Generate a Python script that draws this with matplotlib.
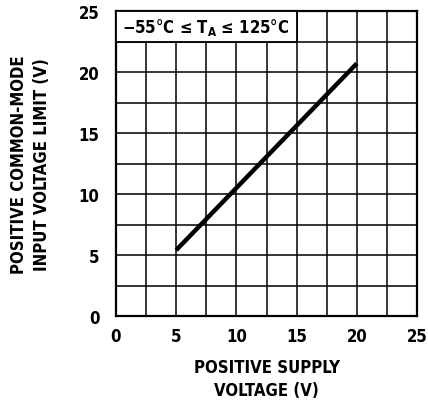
import numpy as np
import matplotlib.pyplot as plt
from matplotlib import font_manager as fm
from matplotlib.patches import Rectangle

# data
supply_v = [5, 20]
cm_limit = [5.4, 20.7]
ticks = [0, 5, 10, 15, 20, 25]
temp_label = "\u221255°C \u2264 T$_\\mathregular{A}$ \u2264 125°C"

# narrow bold face if there is one
names = set(f.name for f in fm.fontManager.ttflist)
stretch = "normal"
if "Liberation Sans Narrow" in names:
    fam = "Liberation Sans Narrow"
elif any(f.name == "DejaVu Sans" and f.stretch == "condensed" for f in fm.fontManager.ttflist):
    fam = "DejaVu Sans"; stretch = "condensed"
else:
    fam = "Liberation Sans"

plt.rcParams["font.family"] = [fam, "DejaVu Sans"]
plt.rcParams["font.weight"] = "bold"
plt.rcParams["font.stretch"] = stretch
plt.rcParams["axes.labelweight"] = "bold"

fig = plt.figure(figsize=(4.28, 4.06), dpi=100)
ax = fig.add_axes([116/428, 1-317/406, 301/428, 305/406])

ax.set_xlim(0, 25); ax.set_ylim(0, 25)
ax.set_xticks(ticks); ax.set_yticks(ticks)
ax.set_xticks(np.arange(0, 25.1, 2.5), minor=True)
ax.set_yticks(np.arange(0, 25.1, 2.5), minor=True)
ax.grid(which="both", color="black", lw=1.1)
ax.tick_params(which="both", length=0, labelsize=12)
ax.tick_params(axis="x", pad=8)
ax.tick_params(axis="y", pad=12)
for t in ax.get_xticklabels() + ax.get_yticklabels():
    t.set_fontweight("bold")
for s in ax.spines.values():
    s.set_linewidth(1.6)

# label box in the top-left corner hides the grid there
ax.add_patch(Rectangle((0, 22.5), 15, 2.5, facecolor="white", edgecolor="black", lw=1.3, zorder=3))
ax.text(0.5, 23.75, temp_label, fontsize=12, fontweight="bold", va="center", ha="left", zorder=4)

ax.plot(supply_v, cm_limit, color="black", lw=3.2, solid_capstyle="butt", zorder=5)

ax.set_xlabel("POSITIVE SUPPLY\nVOLTAGE (V)", fontsize=12, linespacing=1.4, labelpad=9)
ax.set_ylabel("POSITIVE COMMON-MODE\nINPUT VOLTAGE LIMIT (V)", fontsize=12, linespacing=1.3, labelpad=20)

fig.savefig("out.png", dpi=100)
